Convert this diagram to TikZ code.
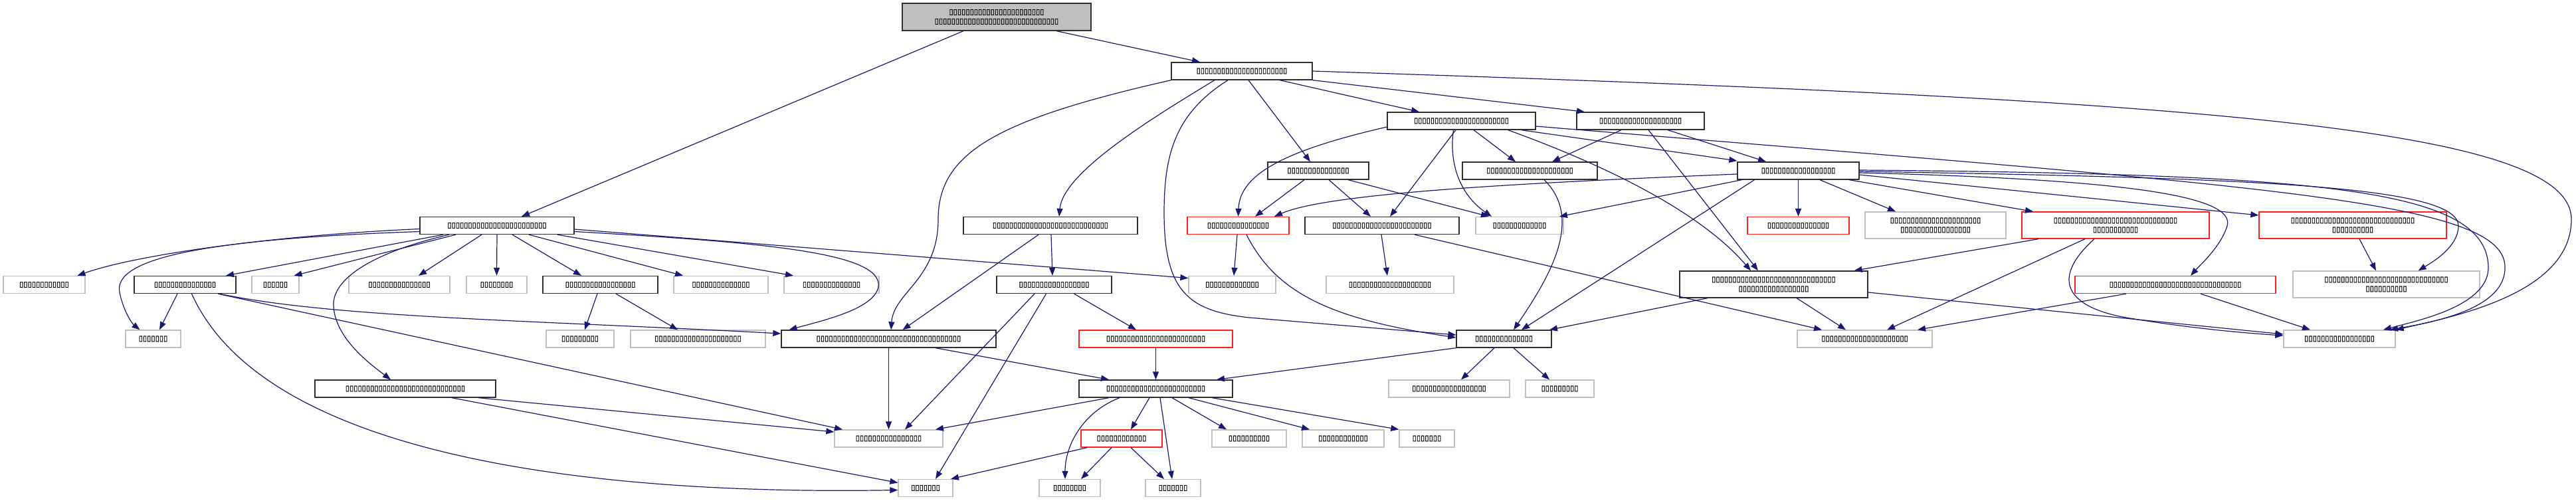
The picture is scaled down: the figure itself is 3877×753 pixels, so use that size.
\documentclass[tikz,border=0pt]{standalone}
\usepackage{fontspec}
\newfontfamily\tofufont[FakeBold=1.2]{DejaVu Sans}
\usetikzlibrary{arrows.meta,calc}
\definecolor{edgec}{HTML}{191970}
\definecolor{grayb}{HTML}{BFBFBF}
\definecolor{blackb}{HTML}{303030}
\definecolor{redb}{HTML}{FF2020}
\tikzset{
  nd/.style={rectangle, inner sep=0pt, align=center, line width=1.3pt, fill=white,
    font=\tofufont\fontsize{11.3}{14}\selectfont, minimum height=26pt},
  blk/.style={nd, draw=blackb},
  gry/.style={nd, draw=grayb},
  rednd/.style={nd, draw=redb},
  ed/.style={draw=edgec, line width=1.2pt, -{Triangle[length=12pt,width=9pt]}},
}
\begin{document}
\begin{tikzpicture}[x=1pt,y=-1pt]
\useasboundingbox (0,0) rectangle (3877,753);
% ---------- nodes ----------
\node[blk, fill=grayb, minimum width=284pt, minimum height=41pt] (root) at (1500,25.5) {▯▯▯▯▯▯▯▯▯▯▯▯▯▯▯▯▯▯▯▯▯▯▯\\▯▯▯▯▯▯▯▯▯▯▯▯▯▯▯▯▯▯▯▯▯▯▯▯▯▯▯▯▯▯};
\node[blk, minimum width=212pt] (A) at (1869,107) {▯▯▯▯▯▯▯▯▯▯▯▯▯▯▯▯▯▯▯▯▯▯};
\node[blk, minimum width=223pt] (C) at (2199.5,182) {▯▯▯▯▯▯▯▯▯▯▯▯▯▯▯▯▯▯▯▯▯▯▯};
\node[blk, minimum width=192pt] (D) at (2469,182) {▯▯▯▯▯▯▯▯▯▯▯▯▯▯▯▯▯▯▯▯};
\node[blk, minimum width=152pt] (F) at (1984,257) {▯▯▯▯▯▯▯▯▯▯▯▯▯▯▯};
\node[blk, minimum width=203pt] (G) at (2302.5,257) {▯▯▯▯▯▯▯▯▯▯▯▯▯▯▯▯▯▯▯▯▯};
\node[blk, minimum width=183pt] (E) at (2706.5,257) {▯▯▯▯▯▯▯▯▯▯▯▯▯▯▯▯▯▯};
% row 4
\node[blk, minimum width=232pt] (B) at (748,339.5) {▯▯▯▯▯▯▯▯▯▯▯▯▯▯▯▯▯▯▯▯▯▯▯▯};
\node[blk, minimum width=262pt] (H) at (1581,339.5) {▯▯▯▯▯▯▯▯▯▯▯▯▯▯▯▯▯▯▯▯▯▯▯▯▯▯▯▯};
\node[rednd, minimum width=153pt] (I) at (1863.5,339.5) {▯▯▯▯▯▯▯▯▯▯▯▯▯▯▯};
\node[blk, minimum width=232pt] (J) at (2080,339.5) {▯▯▯▯▯▯▯▯▯▯▯▯▯▯▯▯▯▯▯▯▯▯▯▯};
\node[gry, minimum width=132pt] (K) at (2287,339.5) {▯▯▯▯▯▯▯▯▯▯▯▯▯};
\node[rednd, minimum width=153pt] (Q) at (2706.5,339.5) {▯▯▯▯▯▯▯▯▯▯▯▯▯▯▯};
\node[gry, minimum width=212pt, minimum height=40pt] (R) at (2913,339) {▯▯▯▯▯▯▯▯▯▯▯▯▯▯▯▯▯▯▯▯▯▯\\▯▯▯▯▯▯▯▯▯▯▯▯▯▯▯▯▯};
\node[rednd, minimum width=282pt, minimum height=40pt] (S) at (3184,339) {▯▯▯▯▯▯▯▯▯▯▯▯▯▯▯▯▯▯▯▯▯▯▯▯▯▯▯▯▯▯\\▯▯▯▯▯▯▯▯▯▯▯};
\node[rednd, minimum width=282pt, minimum height=40pt] (T) at (3541,339) {▯▯▯▯▯▯▯▯▯▯▯▯▯▯▯▯▯▯▯▯▯▯▯▯▯▯▯▯▯▯\\▯▯▯▯▯▯▯▯▯▯};
% row 5
\node[gry, minimum width=123pt] (b1) at (66.5,428.5) {▯▯▯▯▯▯▯▯▯▯▯▯};
\node[blk, minimum width=153pt] (b2) at (278.5,428.5) {▯▯▯▯▯▯▯▯▯▯▯▯▯▯▯};
\node[gry, minimum width=71pt] (b3) at (414.5,428.5) {▯▯▯▯▯▯};
\node[gry, minimum width=152pt] (b4) at (601,428.5) {▯▯▯▯▯▯▯▯▯▯▯▯▯▯▯};
\node[gry, minimum width=91pt] (b5) at (747.5,428.5) {▯▯▯▯▯▯▯▯};
\node[blk, minimum width=173pt] (b6) at (903.5,428.5) {▯▯▯▯▯▯▯▯▯▯▯▯▯▯▯▯▯};
\node[gry, minimum width=142pt] (b7) at (1085,428.5) {▯▯▯▯▯▯▯▯▯▯▯▯▯▯};
\node[gry, minimum width=143pt] (b8) at (1251.5,428.5) {▯▯▯▯▯▯▯▯▯▯▯▯▯▯};
\node[blk, minimum width=173pt] (L) at (1586.5,428.5) {▯▯▯▯▯▯▯▯▯▯▯▯▯▯▯▯▯};
\node[gry, minimum width=131pt] (M) at (1854.5,428.5) {▯▯▯▯▯▯▯▯▯▯▯▯▯};
\node[gry, minimum width=192pt] (N) at (2092,428.5) {▯▯▯▯▯▯▯▯▯▯▯▯▯▯▯▯▯▯▯▯};
\node[blk, minimum width=283pt, minimum height=40pt] (P) at (2669.5,428) {▯▯▯▯▯▯▯▯▯▯▯▯▯▯▯▯▯▯▯▯▯▯▯▯▯▯▯▯▯▯\\▯▯▯▯▯▯▯▯▯▯▯▯▯▯▯▯▯};
\node[rednd, minimum width=302pt] (U) at (3274,428.5) {▯▯▯▯▯▯▯▯▯▯▯▯▯▯▯▯▯▯▯▯▯▯▯▯▯▯▯▯▯▯▯▯};
\node[gry, minimum width=281pt, minimum height=40pt] (V) at (3591.5,428) {▯▯▯▯▯▯▯▯▯▯▯▯▯▯▯▯▯▯▯▯▯▯▯▯▯▯▯▯▯▯\\▯▯▯▯▯▯▯▯▯▯};
% row 6
\node[gry, minimum width=83pt] (c1) at (230.5,510) {▯▯▯▯▯▯▯};
\node[gry, minimum width=102pt] (c2) at (873,510) {▯▯▯▯▯▯▯▯▯};
\node[gry, minimum width=203pt] (c3) at (1050.5,510) {▯▯▯▯▯▯▯▯▯▯▯▯▯▯▯▯▯▯▯▯▯};
\node[blk, minimum width=323pt] (c4) at (1337.5,510) {▯▯▯▯▯▯▯▯▯▯▯▯▯▯▯▯▯▯▯▯▯▯▯▯▯▯▯▯▯▯▯▯▯▯▯};
\node[rednd, minimum width=231pt] (f1) at (1739.5,510) {▯▯▯▯▯▯▯▯▯▯▯▯▯▯▯▯▯▯▯▯▯▯▯▯};
\node[blk, minimum width=143pt] (g1) at (2263.5,510) {▯▯▯▯▯▯▯▯▯▯▯▯▯▯};
\node[gry, minimum width=203pt] (W) at (2806.5,510) {▯▯▯▯▯▯▯▯▯▯▯▯▯▯▯▯▯▯▯▯▯};
\node[gry, minimum width=168pt] (X) at (3521,510) {▯▯▯▯▯▯▯▯▯▯▯▯▯▯▯▯▯};
% row 7
\node[blk, minimum width=272pt] (d1) at (610,585) {▯▯▯▯▯▯▯▯▯▯▯▯▯▯▯▯▯▯▯▯▯▯▯▯▯▯▯▯▯};
\node[blk, minimum width=231pt] (h1) at (1739.5,585) {▯▯▯▯▯▯▯▯▯▯▯▯▯▯▯▯▯▯▯▯▯▯▯▯};
\node[gry, minimum width=182pt] (i1) at (2181,585) {▯▯▯▯▯▯▯▯▯▯▯▯▯▯▯▯▯▯};
\node[gry, minimum width=103pt] (i2) at (2347.5,585) {▯▯▯▯▯▯▯▯▯};
% row 8
\node[gry, minimum width=163pt] (e1) at (1337.5,660) {▯▯▯▯▯▯▯▯▯▯▯▯▯▯▯▯};
\node[rednd, minimum width=122pt] (j1) at (1688,660) {▯▯▯▯▯▯▯▯▯▯▯▯};
\node[gry, minimum width=112pt] (j2) at (1880,660) {▯▯▯▯▯▯▯▯▯▯};
\node[gry, minimum width=123pt] (j3) at (2021.5,660) {▯▯▯▯▯▯▯▯▯▯▯▯};
\node[gry, minimum width=83pt] (j4) at (2147.5,660) {▯▯▯▯▯▯▯};
% row 9
\node[gry, minimum width=82pt] (k1) at (1393,734.5) {▯▯▯▯▯▯▯};
\node[gry, minimum width=92pt] (k2) at (1610,734.5) {▯▯▯▯▯▯▯▯};
\node[gry, minimum width=83pt] (k3) at (1765.5,734.5) {▯▯▯▯▯▯▯};
% ---------- edges ----------
\draw[ed] ([xshift=90pt]root.south) -- ([xshift=-63pt]A.north);
\draw[ed] ([xshift=-50pt]root.south) -- ([xshift=37pt]B.north);
% from A
\draw[ed] ([xshift=57pt]A.south) -- ([xshift=-63.5pt]C.north);
\draw[ed] (A.south east) -- ([xshift=-84pt]D.north);
\draw[ed] (A.east) .. controls (3300,150) and (3870,190) .. (3870,330) .. controls (3870,440) and (3700,475) .. (X.north east);
\draw[ed] (A.south west) .. controls (1500,180) and (1412,230) .. (1412,330) .. controls (1412,420) and (1345,440) .. ([xshift=3.5pt]c4.north);
\draw[ed] ([xshift=-41pt]A.south) .. controls (1730,180) and (1600,260) .. ([xshift=13pt]H.north);
\draw[ed] ([xshift=-21pt]A.south) .. controls (1770,170) and (1752,230) .. (1752,320) .. controls (1752,440) and (1790,468) .. (1880,478) -- ([yshift=6pt]g1.west);
\draw[ed] ([xshift=10pt]A.south) -- ([xshift=-12pt]F.north);
% from B
\draw[ed] ([yshift=-5pt]B.west) .. controls (400,355) and (200,385) .. ([xshift=50pt]b1.north);
\draw[ed] ([yshift=-9pt]B.west) .. controls (300,360) and (170,390) .. (180,440) .. controls (186,470) and (200,488) .. ([xshift=-20pt]c1.north);
\draw[ed] ([xshift=-81pt]B.south) -- ([xshift=61.5pt]b2.north);
\draw[ed] ([xshift=-62pt]B.south) -- ([xshift=28pt]b3.north);
\draw[ed] ([xshift=-72pt]B.south) .. controls (560,380) and (500,420) .. (502,460) .. controls (504,510) and (560,550) .. ([xshift=-22pt]d1.north);
\draw[ed] ([xshift=-23pt]B.south) -- ([xshift=29pt]b4.north);
\draw[ed] (B.south) -- (b5.north);
\draw[ed] ([xshift=23pt]B.south) -- ([xshift=-28.5pt]b6.north);
\draw[ed] ([xshift=48pt]B.south) -- ([xshift=-57pt]b7.north);
\draw[ed] ([xshift=91pt]B.south) -- ([xshift=-57.5pt]b8.north);
\draw[ed] ([yshift=-5.5pt]B.east) -- ([yshift=10pt]M.west);
\draw[ed] ([yshift=-9pt]B.east) .. controls (1150,365) and (1330,380) .. (1322,432) .. controls (1315,465) and (1240,482) .. ([xshift=-150pt]c4.north);
% from b2, b6, d1
\draw[ed] ([xshift=-11.5pt]b2.south) -- ([xshift=9.5pt]c1.north);
\draw[ed] ([xshift=10pt]b2.south) .. controls (400,690) and (900,745) .. ([yshift=-3pt]k1.west);
\draw[ed] ([xshift=49.5pt]b2.south) -- ([xshift=-69.5pt]e1.north);
\draw[ed] ([xshift=52pt]b2.south) .. controls (500,478) and (800,482) .. ([yshift=8pt]c4.west);
\draw[ed] ([xshift=-4.5pt]b6.south) -- ([xshift=7pt]c2.north);
\draw[ed] ([xshift=23.5pt]b6.south) -- ([xshift=-30.5pt]c3.north);
\draw[ed] ([xshift=110pt]d1.south) -- ([yshift=10pt]e1.west);
\draw[ed] ([xshift=70pt]d1.south) -- ([yshift=8pt]k1.west);
% from H, L, c4, f1
\draw[ed] ([xshift=1pt]H.south) -- ([xshift=-2.5pt]L.north);
\draw[ed] ([xshift=-18pt]H.south) -- ([xshift=21pt]c4.north);
\draw[ed] ([xshift=30pt]L.south) -- ([xshift=-29.5pt]f1.north);
\draw[ed] ([xshift=-12pt]L.south) -- ([xshift=15pt]k1.north);
\draw[ed] ([xshift=-29.5pt]L.south) -- ([xshift=24.5pt]e1.north);
\draw[ed] (c4.south) -- (e1.north);
\draw[ed] ([xshift=70.5pt]c4.south) -- ([xshift=-70.5pt]h1.north);
\draw[ed] (f1.south) -- (h1.north);
% g1
\draw[ed] (g1.south west) -- ([xshift=91.5pt]h1.north);
\draw[ed] ([xshift=-14.5pt]g1.south) -- ([xshift=18pt]i1.north);
\draw[ed] ([xshift=14.5pt]g1.south) -- ([xshift=-15.5pt]i2.north);
% h1
\draw[ed] ([xshift=-70.5pt]h1.south) -- ([xshift=70.5pt]e1.north);
\draw[ed] ([xshift=-54.5pt]h1.south) .. controls (1630,620) and (1603,670) .. ([xshift=-7pt]k2.north);
\draw[ed] ([xshift=-9.5pt]h1.south) -- ([xshift=14pt]j1.north);
\draw[ed] ([xshift=6.5pt]h1.south) -- ([xshift=-1.5pt]k3.north);
\draw[ed] ([xshift=24.5pt]h1.south) -- ([xshift=-34pt]j2.north);
\draw[ed] ([xshift=49.5pt]h1.south) -- ([xshift=-50.5pt]j3.north);
\draw[ed] ([xshift=84.5pt]h1.south) -- (j4.north west);
% j1
\draw[ed] ([xshift=-52pt]j1.south) -- ([xshift=38pt]k1.north);
\draw[ed] ([xshift=-15pt]j1.south) -- ([xshift=17pt]k2.north);
\draw[ed] ([xshift=14pt]j1.south) -- ([xshift=-13.5pt]k3.north);
% I
\draw[ed] ([xshift=12.5pt]I.south) .. controls (1920,440) and (2000,480) .. ([yshift=2pt]g1.west);
\draw[ed] ([xshift=-1.5pt]I.south) -- ([xshift=2.5pt]M.north);
% C
\draw[ed] ([yshift=-9pt]C.west) .. controls (1940,225) and (1866,260) .. (I.north);
\draw[ed] ([xshift=-8.5pt]C.south) -- ([xshift=12pt]J.north);
\draw[ed] ([xshift=-12pt]C.south) .. controls (2180,250) and (2200,295) .. ([xshift=-42pt]K.north);
\draw[ed] ([xshift=18.5pt]C.south) -- ([xshift=-21.5pt]G.north);
\draw[ed] ([xshift=90pt]C.south) -- ([yshift=15pt]E.west);
\draw[ed] ([yshift=-8pt]C.east) .. controls (3400,280) and (3765,300) .. (3770,400) .. controls (3773,460) and (3680,482) .. ([xshift=76pt]X.north);
\draw[ed] ([xshift=70pt]C.south) .. controls (2420,250) and (2560,320) .. ([xshift=-34.5pt]P.north);
% D
\draw[ed] ([xshift=-29pt]D.south) -- ([xshift=33.5pt]G.north);
\draw[ed] ([xshift=41pt]D.south) -- ([xshift=-48.5pt]E.north);
\draw[ed] ([xshift=12pt]D.south) -- ([xshift=-23.5pt]P.north);
% G
\draw[ed] ([xshift=21.5pt]G.south) .. controls (2385,330) and (2330,420) .. ([xshift=14.5pt]g1.north);
% E
\draw[ed] ([xshift=-66pt]E.south) -- ([xshift=26.5pt]g1.north);
\draw[ed] ([yshift=-5pt]E.west) .. controls (2300,275) and (2000,290) .. ([xshift=54.5pt]I.north);
\draw[ed] ([xshift=-85pt]E.south) -- ([xshift=60pt]K.north);
\draw[ed] (E.south) -- (Q.north);
\draw[ed] ([xshift=32.5pt]E.south) -- ([xshift=-60pt]R.north);
\draw[ed] ([xshift=76.5pt]E.south) -- ([xshift=-124pt]S.north);
\draw[ed] ([yshift=-6pt]E.east) -- ([yshift=15pt]T.west);
\draw[ed] ([yshift=-3pt]E.east) .. controls (3200,270) and (3365,295) .. (3352,340) .. controls (3342,372) and (3310,400) .. ([xshift=23pt]U.north);
\draw[ed] ([yshift=-1pt]E.east) .. controls (3400,268) and (3700,280) .. (3700,340) .. controls (3700,372) and (3660,395) .. ([xshift=48pt]V.north);
\draw[ed] ([yshift=1pt]E.east) .. controls (3500,262) and (3740,285) .. (3745,400) .. controls (3748,460) and (3640,482) .. ([xshift=66pt]X.north);
% S, T, U, P, J, F
\draw[ed] ([xshift=-116pt]S.south) -- ([xshift=121pt]P.north);
\draw[ed] ([xshift=-46pt]S.south) -- ([xshift=33.5pt]W.north);
\draw[ed] ([xshift=-32pt]S.south) .. controls (3085,420) and (3110,462) .. (3200,478) .. controls (3300,495) and (3390,502) .. ([yshift=5pt]X.west);
\draw[ed] ([xshift=10pt]T.south) -- ([xshift=-15.5pt]V.north);
\draw[ed] ([xshift=-74pt]U.south) -- ([xshift=79.5pt]W.north);
\draw[ed] ([xshift=38pt]U.south) -- ([xshift=-44pt]X.north);
\draw[ed] ([xshift=34.5pt]P.south) -- ([xshift=-28.5pt]W.north);
\draw[ed] ([yshift=-12pt]P.east) -- ([yshift=7pt]X.west);
\draw[ed] ([xshift=-99.5pt]P.south) -- ([xshift=68.5pt]g1.north);
\draw[ed] ([xshift=49pt]J.south) -- ([xshift=-64.5pt]W.north);
\draw[ed] ([xshift=-1pt]J.south) -- ([xshift=-4pt]N.north);
\draw[ed] ([xshift=-21pt]F.south) -- ([xshift=25.5pt]I.north);
\draw[ed] ([xshift=16pt]F.south) -- ([xshift=-17pt]J.north);
\draw[ed] ([xshift=45pt]F.south) -- ([xshift=-46pt]K.north);
\end{tikzpicture}
\end{document}
